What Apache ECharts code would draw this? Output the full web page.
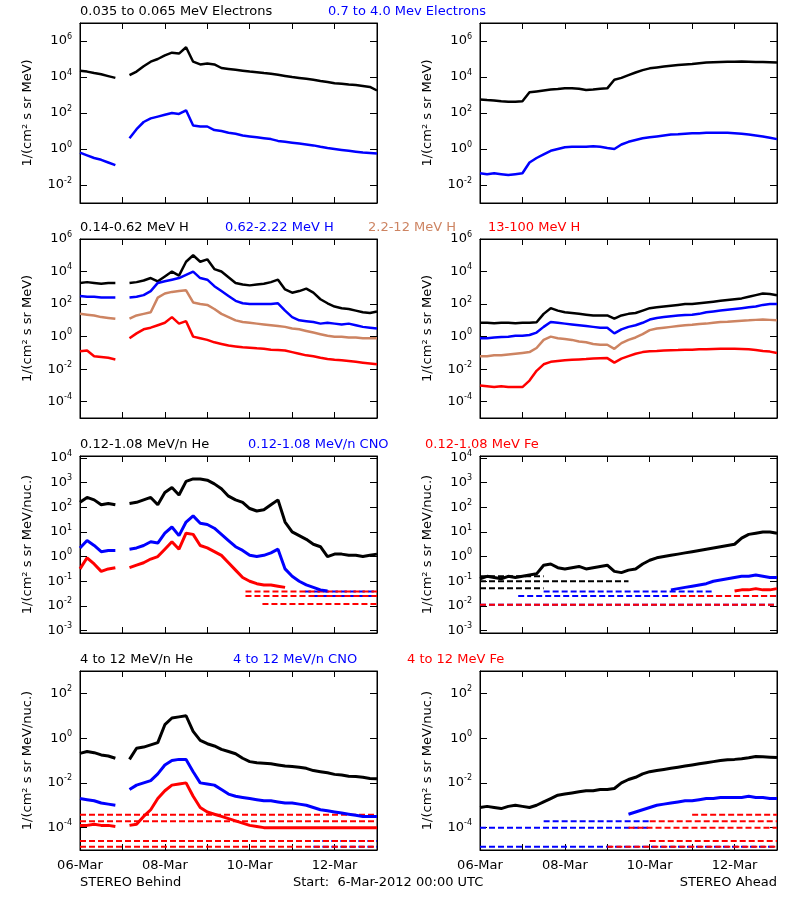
<!DOCTYPE html>
<html>
<head>
<meta charset="utf-8">
<script src="https://cdn.jsdelivr.net/npm/echarts@6/dist/echarts.min.js"></script>
<style>html,body{margin:0;background:#fff}#main{width:800px;height:900px}</style>
</head>
<body>
<div id="main"></div>
<script>
// values are log10 of the flux, one sample every 4 hours from 06-Mar 00:00 ('-' = data gap)
var dayLabels = ['06-Mar', '08-Mar', '10-Mar', '12-Mar'];

var behindElecLo = [4.35,4.3,4.22,4.15,4.05,3.95,'-',4.1,4.3,4.6,4.85,5.0,5.2,5.35,5.3,5.65,4.85,4.7,4.75,4.7,4.5,4.45,4.4,4.35,4.3,4.27,4.22,4.18,4.12,4.06,4.0,3.95,3.9,3.85,3.78,3.72,3.65,3.62,3.58,3.55,3.5,3.45,3.25];
var behindElecHi = [-0.2,-0.35,-0.5,-0.6,-0.75,-0.9,'-',0.6,1.1,1.5,1.7,1.8,1.9,2.0,1.95,2.15,1.3,1.25,1.25,1.05,1.0,0.9,0.85,0.75,0.7,0.65,0.6,0.55,0.45,0.4,0.35,0.3,0.25,0.2,0.12,0.05,0.0,-0.05,-0.1,-0.15,-0.2,-0.22,-0.25];
var aheadElecLo = [2.75,2.72,2.7,2.65,2.63,2.63,2.65,3.15,3.2,3.25,3.3,3.33,3.37,3.38,3.35,3.28,3.3,3.35,3.37,3.85,3.95,4.1,4.25,4.38,4.48,4.53,4.58,4.63,4.67,4.7,4.72,4.76,4.8,4.82,4.84,4.85,4.85,4.86,4.85,4.84,4.83,4.82,4.8];
var aheadElecHi = [-1.35,-1.4,-1.35,-1.4,-1.45,-1.4,-1.35,-0.75,-0.5,-0.3,-0.1,0.0,0.1,0.13,0.12,0.13,0.15,0.12,0.05,0.0,0.25,0.4,0.5,0.6,0.65,0.7,0.75,0.8,0.82,0.85,0.87,0.88,0.9,0.9,0.9,0.9,0.88,0.85,0.8,0.75,0.7,0.63,0.55];

var behindH1 = [3.3,3.35,3.3,3.25,3.3,3.3,'-',3.3,3.35,3.45,3.6,3.4,3.7,4.0,3.75,4.6,5.0,4.6,4.75,4.15,4.0,3.65,3.3,3.2,3.15,3.2,3.25,3.35,3.5,2.9,2.7,2.8,2.95,2.7,2.3,2.05,1.85,1.75,1.7,1.6,1.5,1.45,1.55];
var behindH2 = [2.5,2.45,2.45,2.4,2.4,2.4,'-',2.4,2.45,2.55,2.8,3.3,3.4,3.5,3.6,3.8,4.0,3.6,3.5,3.1,2.8,2.5,2.2,2.05,2.0,2.0,2.0,2.0,2.05,1.6,1.2,1.0,0.95,0.9,0.8,0.85,0.8,0.75,0.8,0.7,0.6,0.55,0.5];
var behindH3 = [1.4,1.35,1.3,1.2,1.15,1.1,'-',1.1,1.3,1.4,1.5,2.4,2.65,2.75,2.8,2.85,2.1,2.0,1.95,1.7,1.4,1.2,1.0,0.9,0.85,0.8,0.75,0.7,0.65,0.6,0.5,0.45,0.35,0.25,0.15,0.05,0.0,0.0,-0.05,-0.05,-0.1,-0.1,-0.1];
var behindH4 = [-0.9,-0.85,-1.2,-1.25,-1.3,-1.4,'-',-0.1,0.2,0.45,0.55,0.7,0.85,1.2,0.8,0.95,0.0,-0.1,-0.2,-0.35,-0.45,-0.55,-0.6,-0.65,-0.68,-0.72,-0.75,-0.8,-0.82,-0.85,-0.95,-1.05,-1.15,-1.2,-1.3,-1.38,-1.42,-1.45,-1.5,-1.55,-1.6,-1.65,-1.7];
var aheadH1 = [0.85,0.85,0.83,0.85,0.85,0.83,0.85,0.85,0.88,1.4,1.75,1.6,1.5,1.45,1.4,1.35,1.3,1.3,1.3,1.1,1.3,1.4,1.45,1.6,1.75,1.8,1.85,1.9,1.95,2.0,2.0,2.05,2.1,2.15,2.2,2.25,2.3,2.35,2.45,2.55,2.65,2.62,2.55];
var aheadH2 = [-0.1,-0.1,-0.05,-0.02,0.0,0.05,0.05,0.1,0.25,0.6,0.9,0.85,0.8,0.75,0.7,0.65,0.6,0.55,0.55,0.2,0.45,0.6,0.7,0.85,1.05,1.15,1.2,1.25,1.3,1.33,1.35,1.4,1.5,1.55,1.6,1.65,1.7,1.75,1.8,1.85,1.95,2.0,2.0];
var aheadH3 = [-1.2,-1.2,-1.15,-1.15,-1.1,-1.05,-1.0,-0.95,-0.7,-0.2,0.0,-0.1,-0.15,-0.2,-0.3,-0.35,-0.45,-0.5,-0.5,-0.75,-0.4,-0.2,-0.05,0.15,0.4,0.5,0.55,0.6,0.65,0.7,0.73,0.78,0.8,0.85,0.9,0.92,0.95,0.98,1.0,1.03,1.05,1.03,1.0];
var aheadH4 = [-3.0,-3.05,-3.1,-3.05,-3.1,-3.1,-3.1,-2.7,-2.1,-1.7,-1.55,-1.5,-1.45,-1.42,-1.4,-1.38,-1.35,-1.33,-1.32,-1.6,-1.35,-1.2,-1.05,-0.95,-0.9,-0.88,-0.85,-0.83,-0.82,-0.8,-0.8,-0.78,-0.77,-0.76,-0.75,-0.75,-0.75,-0.76,-0.78,-0.82,-0.88,-0.92,-1.0];

var behindLoHe = [2.2,2.4,2.3,2.1,2.15,2.1,'-',2.15,2.2,2.3,2.4,2.1,2.6,2.8,2.5,3.05,3.15,3.15,3.1,2.95,2.75,2.45,2.3,2.2,1.95,1.85,1.9,2.1,2.3,1.4,1.0,0.85,0.7,0.5,0.4,0.0,0.1,0.1,0.05,0.05,0.0,0.05,0.1];
var behindLoCNO = [0.35,0.65,0.45,0.2,0.25,0.25,'-',0.3,0.35,0.45,0.6,0.55,0.95,1.2,0.85,1.4,1.65,1.35,1.3,1.15,0.9,0.65,0.4,0.25,0.05,0.0,0.05,0.15,0.3,-0.5,-0.8,-1.0,-1.15,-1.25,-1.35,-1.4];
var behindLoFe = [-0.5,-0.05,-0.3,-0.6,-0.5,-0.45,'-',-0.45,-0.35,-0.25,-0.1,0.0,0.3,0.6,0.3,0.95,0.9,0.45,0.35,0.2,0.05,-0.25,-0.55,-0.85,-1.0,-1.1,-1.15,-1.15,-1.2,-1.25];
var aheadLoHe = [-0.9,-0.8,-0.85,-0.9,-0.8,-0.85,-0.8,-0.75,-0.7,-0.35,-0.3,-0.45,-0.5,-0.45,-0.4,-0.5,-0.45,-0.4,-0.35,-0.6,-0.65,-0.55,-0.5,-0.3,-0.15,-0.05,0.0,0.05,0.1,0.15,0.2,0.25,0.3,0.35,0.4,0.45,0.5,0.75,0.9,0.95,1.0,1.0,0.95];
var aheadLoCNO = ['-','-','-','-','-','-','-','-','-','-','-','-','-','-','-','-','-','-','-','-','-','-','-','-','-','-','-',-1.35,-1.3,-1.25,-1.2,-1.15,-1.1,-1.0,-0.95,-0.9,-0.85,-0.8,-0.8,-0.75,-0.8,-0.85,-0.85];
var aheadLoFe = ['-','-','-','-','-','-','-','-','-','-','-','-','-','-','-','-','-','-','-','-','-','-','-','-','-','-','-','-','-','-','-','-','-','-','-','-',-1.4,-1.35,-1.35,-1.3,-1.35,-1.35,-1.3];

var behindHiHe = [-0.68,-0.6,-0.65,-0.75,-0.8,-0.9,'-',-0.95,-0.45,-0.4,-0.3,-0.2,0.6,0.9,0.95,1.0,0.3,-0.1,-0.25,-0.35,-0.5,-0.6,-0.7,-0.9,-1.05,-1.1,-1.12,-1.15,-1.2,-1.25,-1.27,-1.3,-1.35,-1.45,-1.5,-1.55,-1.62,-1.65,-1.7,-1.72,-1.75,-1.8,-1.82];
var behindHiCNO = [-2.7,-2.75,-2.8,-2.9,-2.95,-3.0,'-',-2.3,-2.1,-2.0,-1.9,-1.6,-1.2,-1.0,-0.95,-0.95,-1.5,-2.0,-2.05,-2.1,-2.3,-2.5,-2.6,-2.65,-2.7,-2.75,-2.8,-2.8,-2.85,-2.9,-2.9,-2.95,-3.0,-3.1,-3.2,-3.25,-3.3,-3.35,-3.4,-3.45,-3.5,-3.5,-3.5];
var behindHiFe = [-3.9,-3.9,-3.85,-3.9,-3.9,-3.95,'-',-3.9,-3.85,-3.5,-3.2,-2.7,-2.35,-2.1,-2.05,-2.0,-2.6,-3.1,-3.3,-3.4,-3.5,-3.6,-3.7,-3.8,-3.9,-3.95,-4.0,-4.0,-4.0,-4.0,-4.0,-4.0,-4.0,-4.0,-4.0,-4.0,-4.0,-4.0,-4.0,-4.0,-4.0,-4.0,-4.0];
var aheadHiHe = [-3.1,-3.05,-3.1,-3.15,-3.05,-3.0,-3.05,-3.1,-3.0,-2.85,-2.7,-2.55,-2.5,-2.45,-2.4,-2.35,-2.35,-2.3,-2.3,-2.25,-2.0,-1.85,-1.75,-1.6,-1.5,-1.45,-1.4,-1.35,-1.3,-1.25,-1.2,-1.15,-1.1,-1.05,-1.0,-0.97,-0.95,-0.92,-0.88,-0.82,-0.83,-0.85,-0.87];
var aheadHiCNO = ['-','-','-','-','-','-','-','-','-','-','-','-','-','-','-','-','-','-','-','-','-',-3.4,-3.3,-3.2,-3.1,-3.0,-2.95,-2.9,-2.85,-2.8,-2.8,-2.75,-2.7,-2.7,-2.65,-2.65,-2.65,-2.65,-2.6,-2.65,-2.65,-2.7,-2.7];

// count-rate floors: [log10 value, first day, last day]
var behindLoFloorsCNO = [[-1.42, 5.3, 7], [-1.6, 5.5, 7]];
var behindLoFloorsFe = [[-1.42, 3.9, 7], [-1.6, 3.9, 7], [-1.92, 4.3, 7]];
var aheadLoFloorsHe = [[-0.8, 0, 1.5], [-1.0, 0, 3.5], [-1.28, 0, 1.5]];
var aheadLoFloorsCNO = [[-1.42, 1.5, 5.5], [-1.6, 0.9, 7], [-1.95, 0, 7]];
var aheadLoFloorsFe = [[-1.6, 4.5, 7], [-1.95, 0, 7]];
var behindHiFloorsCNO = [[-4.6, 5.5, 7], [-4.85, 5.5, 7]];
var behindHiFloorsFe = [[-3.42, 0, 7], [-3.72, 0, 7], [-4.6, 0, 7], [-4.85, 0, 7]];
var aheadHiFloorsCNO = [[-3.72, 1.5, 4], [-4.0, 0, 4], [-4.85, 0, 7]];
var aheadHiFloorsFe = [[-3.42, 5, 7], [-3.72, 4, 7], [-4.0, 3.5, 7], [-4.6, 4, 7], [-4.85, 3, 7]];

var BLACK = '#000', BLUE = '#0000ff', BROWN = '#cd8462', RED = '#ff0000';
var FONT = 'DejaVu Sans';

var rows = [
  {top: 23, height: 180, min: -3, max: 7, ticks: [-2, 0, 2, 4, 6], unit: '1/(cm² s sr MeV)',
   left: [[behindElecLo, BLACK], [behindElecHi, BLUE]],
   right: [[aheadElecLo, BLACK], [aheadElecHi, BLUE]],
   titles: [['0.035 to 0.065 MeV Electrons', 80, BLACK], ['0.7 to 4.0 Mev Electrons', 328, BLUE]]},
  {top: 239, height: 179, min: -5, max: 6, ticks: [-4, -2, 0, 2, 4, 6], unit: '1/(cm² s sr MeV)',
   left: [[behindH1, BLACK], [behindH2, BLUE], [behindH3, BROWN], [behindH4, RED]],
   right: [[aheadH1, BLACK], [aheadH2, BLUE], [aheadH3, BROWN], [aheadH4, RED]],
   titles: [['0.14-0.62 MeV H', 80, BLACK], ['0.62-2.22 MeV H', 225, BLUE], ['2.2-12 MeV H', 368, BROWN], ['13-100 MeV H', 488, RED]]},
  {top: 456, height: 177, min: -3.1, max: 4.08, ticks: [-3, -2, -1, 0, 1, 2, 3, 4], unit: '1/(cm² s sr MeV/nuc.)', dots: true,
   left: [[behindLoHe, BLACK], [behindLoCNO, BLUE], [behindLoFe, RED]],
   right: [[aheadLoHe, BLACK], [aheadLoCNO, BLUE], [aheadLoFe, RED]],
   leftFloors: [[behindLoFloorsCNO, BLUE], [behindLoFloorsFe, RED]],
   rightFloors: [[aheadLoFloorsHe, BLACK], [aheadLoFloorsCNO, BLUE], [aheadLoFloorsFe, RED]],
   titles: [['0.12-1.08 MeV/n He', 80, BLACK], ['0.12-1.08 MeV/n CNO', 248, BLUE], ['0.12-1.08 MeV Fe', 425, RED]]},
  {top: 671, height: 179, min: -5, max: 3, ticks: [-4, -2, 0, 2], unit: '1/(cm² s sr MeV/nuc.)', dots: true, last: true,
   left: [[behindHiHe, BLACK], [behindHiCNO, BLUE], [behindHiFe, RED]],
   right: [[aheadHiHe, BLACK], [aheadHiCNO, BLUE]],
   leftFloors: [[behindHiFloorsCNO, BLUE], [behindHiFloorsFe, RED]],
   rightFloors: [[aheadHiFloorsCNO, BLUE], [aheadHiFloorsFe, RED]],
   titles: [['4 to 12 MeV/n He', 80, BLACK], ['4 to 12 MeV/n CNO', 233, BLUE], ['4 to 12 MeV Fe', 407, RED]]}
];

var grids = [], xAxes = [], yAxes = [], series = [], graphics = [];

function expLabel(v) {
  return '10{s|' + Math.round(v) + '}';
}

rows.forEach(function (r) {
  [80, 480].forEach(function (gx, side) {
    var g = grids.length;
    grids.push({left: gx, top: r.top, width: 297, height: r.height, show: true, borderColor: '#000', borderWidth: 1});
    var xTick = {show: true, inside: true, length: 6, lineStyle: {color: '#000'}};
    var line = {onZero: false, lineStyle: {color: '#000'}};
    xAxes.push({type: 'value', gridIndex: g, min: 0, max: 7, interval: 1, position: 'bottom',
      axisLine: line, axisTick: xTick, splitLine: {show: false},
      axisLabel: {show: !!r.last, customValues: [0, 2, 4, 6], margin: 9, color: '#000', fontFamily: FONT, fontSize: 13,
        formatter: function (v) { return dayLabels[v / 2]; }}});
    xAxes.push({type: 'value', gridIndex: g, min: 0, max: 7, interval: 1, position: 'top',
      axisLine: line, axisTick: xTick, axisLabel: {show: false}, splitLine: {show: false}});
    var yTick = {show: true, inside: true, length: 7, customValues: r.ticks, lineStyle: {color: '#000'}};
    yAxes.push({type: 'value', gridIndex: g, min: r.min, max: r.max, position: 'left',
      name: r.unit, nameLocation: 'middle', nameGap: 46, nameRotate: 90,
      nameTextStyle: {color: '#000', fontFamily: FONT, fontSize: 13},
      axisLine: line, axisTick: yTick, splitLine: {show: false},
      axisLabel: {customValues: r.ticks, margin: 8, color: '#000', fontFamily: FONT, fontSize: 13, formatter: expLabel,
        rich: {s: {fontSize: 8, fontFamily: FONT, color: '#000', padding: [0, 0, 9, 0]}}}});
    yAxes.push({type: 'value', gridIndex: g, min: r.min, max: r.max, position: 'right',
      axisLine: line, axisTick: yTick, axisLabel: {show: false}, splitLine: {show: false}});

    var xi = g * 2, yi = g * 2;
    (side ? r.right : r.left).forEach(function (s) {
      series.push({type: 'line', xAxisIndex: xi, yAxisIndex: yi, symbol: 'none', silent: true,
        lineStyle: {color: s[1], width: r.dots ? 3 : 2.5}, connectNulls: false,
        data: s[0].map(function (v, i) { return [i / 6, v]; })});
    });
    ((side ? r.rightFloors : r.leftFloors) || []).forEach(function (f) {
      f[0].forEach(function (lvl) {
        series.push({type: 'line', xAxisIndex: xi, yAxisIndex: yi, symbol: 'none', silent: true, z: 1,
          lineStyle: {color: f[1], width: 2, type: [6, 3]},
          data: [[lvl[1], lvl[0]], [lvl[2], lvl[0]]]});
      });
    });
  });
  r.titles.forEach(function (t) {
    graphics.push({type: 'text', left: t[1], top: r.top - 18,
      style: {text: t[0], fill: t[2], font: '13px "' + FONT + '"'}});
  });
});

graphics.push({type: 'text', left: 80, top: 876, style: {text: 'STEREO Behind', fill: '#000', font: '13px "' + FONT + '"'}});
graphics.push({type: 'text', left: 293, top: 876, style: {text: 'Start:  6-Mar-2012 00:00 UTC', fill: '#000', font: '13px "' + FONT + '"'}});
graphics.push({type: 'text', right: 23, top: 876, style: {text: 'STEREO Ahead', fill: '#000', font: '13px "' + FONT + '"'}});

var myChart = echarts.init(document.getElementById('main'));
myChart.setOption({
  animation: false,
  backgroundColor: '#fff',
  grid: grids,
  xAxis: xAxes,
  yAxis: yAxes,
  series: series,
  graphic: graphics
});
</script>
</body>
</html>
